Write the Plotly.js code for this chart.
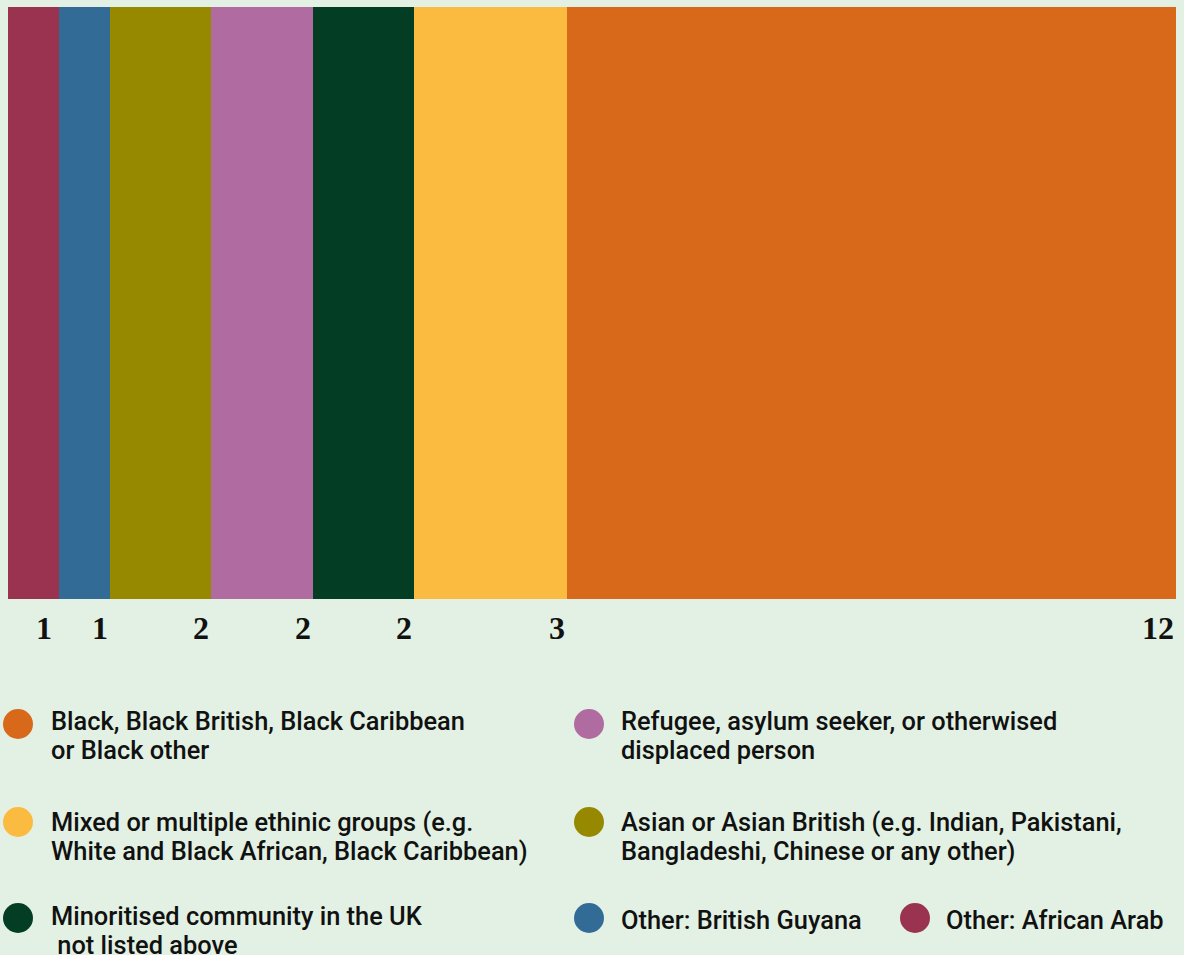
<!DOCTYPE html>
<html>
<head>
<meta charset="utf-8">
<script src="https://cdn.plot.ly/plotly-3.0.1.min.js"></script>
<style>
  html, body { margin: 0; padding: 0; background: #e2f1e3; }
  #chart { width: 1184px; height: 955px; }
</style>
</head>
<body>
<div id="chart"></div>
<script>
// ---- data (left to right in the stacked bar) ----
const categories = [
  "Other: African Arab",
  "Other: British Guyana",
  "Asian or Asian British (e.g. Indian, Pakistani, Bangladeshi, Chinese or any other)",
  "Refugee, asylum seeker, or otherwised displaced person",
  "Minoritised community in the UK not listed above",
  "Mixed or multiple ethinic groups (e.g. White and Black African, Black Caribbean)",
  "Black, Black British, Black Caribbean or Black other"
];
const values = [1, 1, 2, 2, 2, 3, 12];
const colors = ["#99334f", "#336b97", "#968900", "#b06ba1", "#033d24", "#fbbb40", "#d8681a"];
const legendLines = [
  ["Other: African Arab"],
  ["Other: British Guyana"],
  ["Asian or Asian British (e.g. Indian, Pakistani,", "Bangladeshi, Chinese or any other)"],
  ["Refugee, asylum seeker, or otherwised", "displaced person"],
  ["Minoritised community in the UK", "\u00a0not listed above"],
  ["Mixed or multiple ethinic groups (e.g.", "White and Black African, Black Caribbean)"],
  ["Black, Black British, Black Caribbean", "or Black other"]
];
// legend placement in pixels: [marker centre x, marker centre y, text left x, first-line middle y]
const legendPos = [
  [915, 918, 945, 920],
  [589, 918, 620, 920],
  [589, 822, 620, 822],
  [589, 724, 620, 721],
  [18, 918, 50, 916],
  [18, 822, 50, 822],
  [18, 724, 50, 720.5]
];

// ---- geometry ----
const W = 1184, H = 955;
const M = { l: 8, r: 8, t: 7, b: 356 };
const PW = W - M.l - M.r, PH = H - M.t - M.b;
const px2x = p => (p - M.l) / PW;
const py2y = p => (H - M.b - p) / PH;
const LINE = 29;

const total = values.reduce((a, b) => a + b, 0);

const traces = categories.map((c, i) => ({
  type: "bar",
  orientation: "h",
  name: c,
  x: [values[i]],
  y: ["all"],
  marker: { color: colors[i], line: { width: 0 } },
  hovertemplate: c + ": %{x}<extra></extra>",
  showlegend: false
}));

const annotations = [];
const shapes = [];
let cum = 0;
values.forEach((v, i) => {
  cum += v;
  annotations.push({
    x: cum, xref: "x", y: 0, yref: "paper",
    xanchor: "right", yanchor: "middle", yshift: -29, xshift: (i === 0 ? -5 : 0),
    text: String(v), showarrow: false,
    font: { family: "Liberation Serif, serif", size: 32, color: "#111111", weight: 700 }
  });
});

categories.forEach((c, i) => {
  const [cx, cy, tx, ty] = legendPos[i];
  const r = 15;
  shapes.push({
    type: "circle", xref: "paper", yref: "paper",
    x0: px2x(cx - r), x1: px2x(cx + r), y0: py2y(cy + r), y1: py2y(cy - r),
    fillcolor: colors[i], line: { width: 0 }
  });
  legendLines[i].forEach((ln, k) => {
    annotations.push({
      x: px2x(tx), xref: "paper", y: py2y(ty + k * LINE), yref: "paper",
      xanchor: "left", yanchor: "middle", align: "left",
      text: ln, showarrow: false, borderpad: 0,
      font: { family: "Roboto, sans-serif", size: 25.4, color: "#111111", weight: 500 }
    });
  });
});

const layout = {
  width: W, height: H,
  margin: M,
  paper_bgcolor: "#e2f1e3",
  plot_bgcolor: "#e2f1e3",
  barmode: "stack",
  bargap: 0,
  xaxis: { range: [0, total], visible: false, fixedrange: true },
  yaxis: { range: [-0.5, 0.5], visible: false, fixedrange: true },
  annotations: annotations,
  shapes: shapes,
  showlegend: false
};

Plotly.newPlot("chart", traces, layout, { displayModeBar: false, staticPlot: true });
</script>
</body>
</html>
